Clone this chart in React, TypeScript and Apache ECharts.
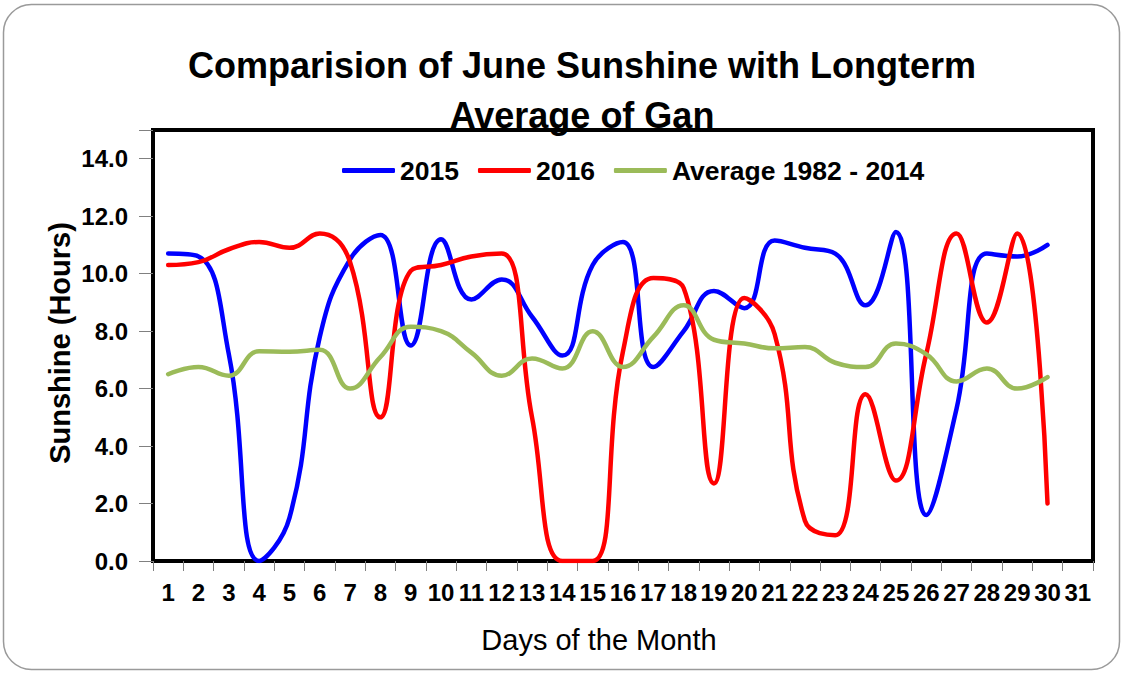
import React, { useEffect, useRef } from "react";
import * as echarts from "echarts";

const days: string[] = Array.from({ length: 31 }, (_, i) => String(i + 1));
const sun2015: number[] = [10.7, 10.6, 7.2, 0, 1.5, 7.8, 10.5, 11.35, 7.5, 11.2, 9.1, 9.8, 8.5, 7.15, 10.3, 11.1, 6.75, 8.0, 9.4, 8.8, 11.15, 10.9, 10.7, 8.9, 11.45, 1.6, 5.3, 10.7, 10.6, 11.0];
const sun2016: number[] = [10.3, 10.4, 10.85, 11.1, 10.9, 11.4, 10.4, 5.0, 10.1, 10.3, 10.6, 10.7, 5.0, 0, 0, 7.3, 9.85, 9.5, 2.7, 9.15, 7.9, 1.4, 0.9, 5.8, 2.8, 7.2, 11.4, 8.3, 11.4, 2.0];
const avg8214: number[] = [6.5, 6.75, 6.45, 7.3, 7.28, 7.35, 6.0, 7.1, 8.15, 8.0, 7.25, 6.45, 7.05, 6.7, 8.0, 6.75, 7.8, 8.9, 7.7, 7.57, 7.4, 7.45, 6.9, 6.75, 7.57, 7.2, 6.25, 6.7, 6.0, 6.4];
const seriesNames: string[] = ["2015", "2016", "Average 1982 - 2014"];

const FONT = "'Liberation Sans', Arial, Helvetica, sans-serif";

export default function App() {
  const ref = useRef<HTMLDivElement>(null);
  useEffect(() => {
    if (!ref.current) return;
    const chart = echarts.init(ref.current, null, { renderer: "svg" });
    const mk = (name: string, data: number[], color: string) => ({
      name,
      type: "line",
      data,
      smooth: 0.45,
      symbol: "none",
      lineStyle: { color, width: 4.5, cap: "round", join: "round" },
      itemStyle: { color },
    });
    chart.setOption({
      animation: false,
      backgroundColor: "#fff",
      title: {
        text: "Comparision of June Sunshine with Longterm\nAverage of Gan",
        left: 577,
        top: 35,
        textAlign: "center",
        textStyle: { fontSize: 36, fontWeight: "bold", lineHeight: 50, color: "#000", fontFamily: FONT },
      },
      legend: {
        left: 337,
        top: 152,
        icon: "roundRect",
        itemWidth: 53,
        itemHeight: 5,
        itemGap: 19,
        textStyle: { fontSize: 26.5, fontWeight: "bold", color: "#000", fontFamily: FONT },
        data: seriesNames,
      },
      grid: {
        left: 153,
        right: 30,
        top: 130,
        bottom: 114,
        show: true,
        borderColor: "#000",
        borderWidth: 4,
        backgroundColor: "transparent",
      },
      xAxis: {
        type: "category",
        data: days,
        boundaryGap: true,
        axisLine: { show: false },
        axisTick: { show: true, interval: 0, length: 10, lineStyle: { color: "#808080", width: 1 } },
        axisLabel: { interval: 0, fontSize: 24, fontWeight: "bold", color: "#000", margin: 19, fontFamily: FONT },
        splitLine: { show: false },
      },
      yAxis: {
        type: "value",
        min: 0,
        max: 15,
        interval: 2,
        axisLine: { show: false },
        axisTick: { show: true, length: 14, lineStyle: { color: "#808080", width: 1 } },
        axisLabel: {
          fontSize: 24,
          fontWeight: "bold",
          color: "#000",
          margin: 25,
          fontFamily: FONT,
          formatter: (v: number) => (v > 14 ? "" : v.toFixed(1)),
        },
        splitLine: { show: false },
      },
      graphic: [
        {
          type: "rect",
          shape: { x: 3.5, y: 4.5, width: 1116, height: 665, r: 28 },
          style: { fill: "none", stroke: "#9a9a9a", lineWidth: 1.5 },
          silent: true,
          z: -1,
        },
        {
          type: "text",
          x: 599,
          y: 640,
          style: { text: "Days of the Month", fontSize: 29, fontFamily: FONT, fill: "#000", align: "center", verticalAlign: "middle" },
        },
        {
          type: "text",
          x: 60,
          y: 343,
          rotation: Math.PI / 2,
          style: { text: "Sunshine (Hours)", fontSize: 29, fontWeight: "bold", fontFamily: FONT, fill: "#000", align: "center", verticalAlign: "middle" },
        },
      ],
      series: [mk(seriesNames[0], sun2015, "#0000FF"), mk(seriesNames[1], sun2016, "#FF0000"), mk(seriesNames[2], avg8214, "#9BBB59")],
    });
    return () => chart.dispose();
  }, []);
  return <div ref={ref} style={{ position: "absolute", left: 0, top: 0, width: 1123, height: 675 }} />;
}
